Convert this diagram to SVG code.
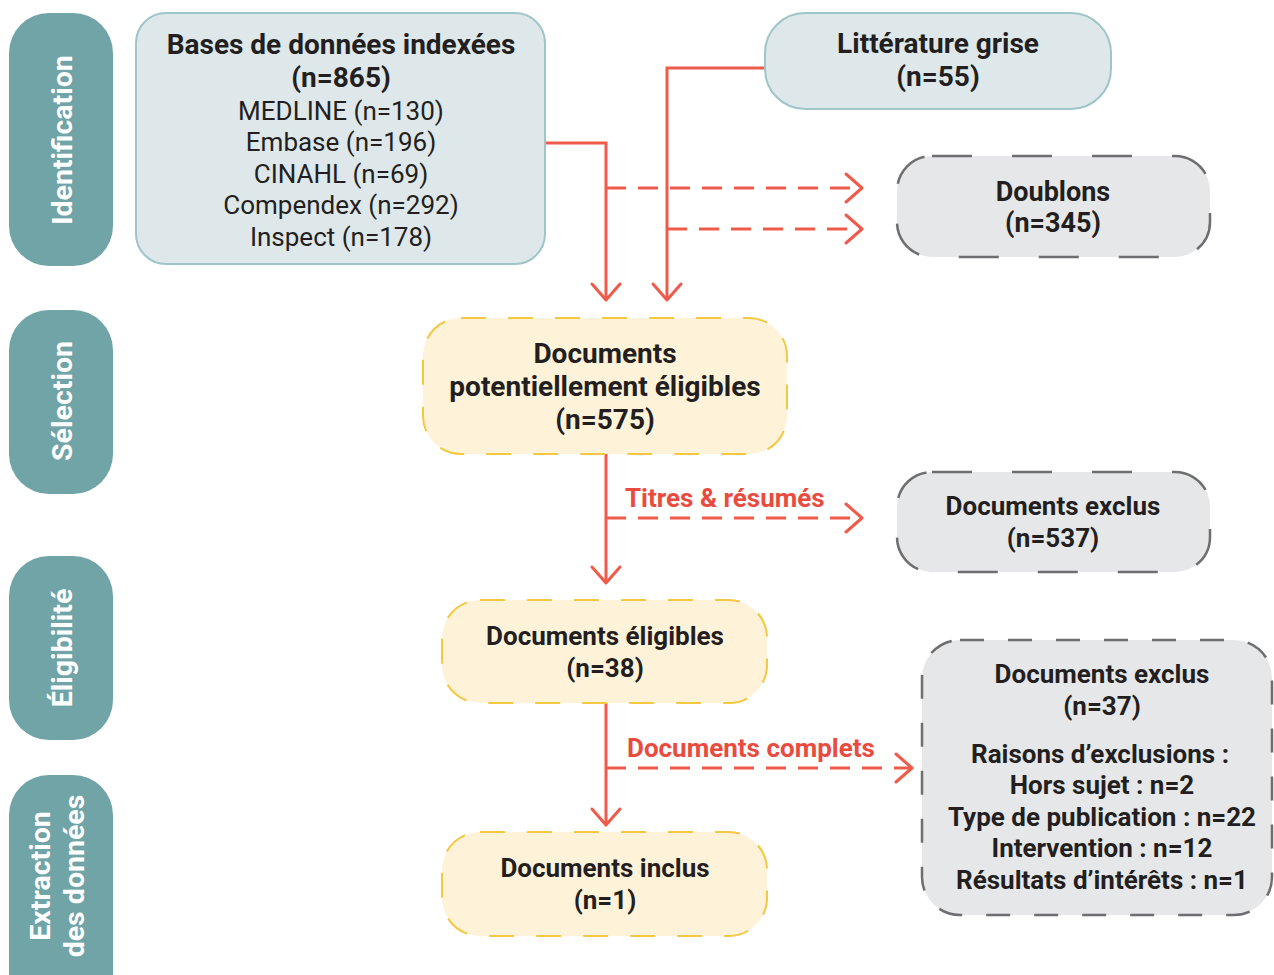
<svg xmlns="http://www.w3.org/2000/svg" width="1274" height="975" viewBox="0 0 1274 975">
<style>
.tab{fill:#70a4a7}
.tabt{font-family:Roboto,"Liberation Sans",sans-serif;font-weight:bold;font-size:28.5px;fill:#ffffff;text-anchor:middle}
.blue{fill:#dee7ea;stroke:#9fc5c8;stroke-width:2}
.yel{fill:#fef2d9;stroke:#f5c842;stroke-width:2;stroke-dasharray:25 22}
.gray{fill:#e6e7e9;stroke:#6d6e70;stroke-width:2.5;stroke-dasharray:40 40}
.b{font-family:Roboto,"Liberation Sans",sans-serif;font-weight:bold;font-size:26px;fill:#231f20;text-anchor:middle}
.b28{font-size:28px}
.b27{font-size:27px}
.r{font-family:Roboto,"Liberation Sans",sans-serif;font-size:26px;fill:#231f20;text-anchor:middle}
.lbl{font-family:Roboto,"Liberation Sans",sans-serif;font-weight:bold;font-size:26px;fill:#ea4b3f}
.ln{fill:none;stroke:#ef5b4b;stroke-width:3}
.dash{stroke-dasharray:20 12}
</style>
<defs>
<marker id="arr" markerUnits="userSpaceOnUse" markerWidth="40" markerHeight="40" viewBox="-20 -20 40 40" refX="0" refY="0" orient="auto">
<path d="M-16,-14 L0,0 L-16,14" fill="none" stroke="#ef5b4b" stroke-width="3" stroke-linecap="round" stroke-linejoin="round"/>
</marker>
</defs>

<g id="tab-identification"><rect class="tab" x="9" y="13" width="104" height="253" rx="40"/><text class="tabt" transform="translate(62,140) rotate(-90)" y="10">Identification</text></g>
<g id="tab-selection"><rect class="tab" x="9" y="310" width="104" height="184" rx="40"/><text class="tabt" transform="translate(62,401) rotate(-90)" y="10">Sélection</text></g>
<g id="tab-eligibilite"><rect class="tab" x="9" y="556" width="104" height="184" rx="40"/><text class="tabt" transform="translate(62,648) rotate(-90)" y="10">Éligibilité</text></g>
<g id="tab-extraction"><rect class="tab" x="9" y="775" width="104" height="240" rx="40"/><text class="tabt" transform="translate(40,876) rotate(-90)" y="10">Extraction</text><text class="tabt" transform="translate(74,876) rotate(-90)" y="10">des données</text></g>

<g id="connectors">
<polyline class="ln" points="545,143 606,143 606,300" marker-end="url(#arr)"/>
<polyline class="ln" points="765,68 667,68 667,300" marker-end="url(#arr)"/>
<line class="ln dash" x1="606" y1="188" x2="862" y2="188" marker-end="url(#arr)"/>
<line class="ln dash" x1="667" y1="229" x2="862" y2="229" marker-end="url(#arr)"/>
<line class="ln" x1="606" y1="454" x2="606" y2="583" marker-end="url(#arr)"/>
<line class="ln dash" x1="606" y1="518" x2="862" y2="518" marker-end="url(#arr)"/>
<line class="ln" x1="606" y1="703" x2="606" y2="825" marker-end="url(#arr)"/>
<line class="ln dash" x1="606" y1="768" x2="912" y2="768" marker-end="url(#arr)"/>
<text class="lbl" x="625" y="507">Titres &amp; résumés</text>
<text class="lbl" x="627" y="757">Documents complets</text>
</g>

<g id="bases">
<rect class="blue" x="136" y="13" width="409" height="251" rx="30"/>
<text class="b b28" x="341" y="54">Bases de données indexées</text>
<text class="b b28" x="341" y="87">(n=865)</text>
<text class="r" x="341" y="120">MEDLINE (n=130)</text>
<text class="r" x="341" y="151">Embase (n=196)</text>
<text class="r" x="341" y="183">CINAHL (n=69)</text>
<text class="r" x="341" y="214">Compendex (n=292)</text>
<text class="r" x="341" y="246">Inspect (n=178)</text>
</g>
<g id="litterature">
<rect class="blue" x="765" y="13" width="346" height="96" rx="40"/>
<text class="b b28" x="938" y="53">Littérature grise</text>
<text class="b b28" x="938" y="86">(n=55)</text>
</g>
<g id="doublons">
<rect class="gray" x="897" y="156" width="313" height="101" rx="35"/>
<text class="b b27" x="1053" y="201">Doublons</text>
<text class="b b27" x="1053" y="232">(n=345)</text>
</g>
<g id="potentiels">
<rect class="yel" x="423" y="318" width="364" height="136" rx="38"/>
<text class="b b28" x="605" y="363">Documents</text>
<text class="b b28" x="605" y="396">potentiellement éligibles</text>
<text class="b b28" x="605" y="429">(n=575)</text>
</g>
<g id="exclus537">
<rect class="gray" x="897" y="472" width="313" height="100" rx="35"/>
<text class="b" x="1053" y="515">Documents exclus</text>
<text class="b" x="1053" y="547">(n=537)</text>
</g>
<g id="eligibles">
<rect class="yel" x="442" y="600" width="325" height="103" rx="38"/>
<text class="b" x="605" y="645">Documents éligibles</text>
<text class="b" x="605" y="677">(n=38)</text>
</g>
<g id="exclus37">
<rect class="gray" x="922" y="640" width="350" height="275" rx="38" style="stroke-dasharray:24 24"/>
<text class="b" x="1102" y="683">Documents exclus</text>
<text class="b" x="1102" y="715">(n=37)</text>
<text class="b" x="1100" y="763">Raisons d’exclusions :</text>
<text class="b" x="1102" y="794">Hors sujet : n=2</text>
<text class="b" x="1102" y="826">Type de publication : n=22</text>
<text class="b" x="1102" y="857">Intervention : n=12</text>
<text class="b" x="1102" y="889">Résultats d’intérêts : n=1</text>
</g>
<g id="inclus">
<rect class="yel" x="442" y="832" width="325" height="104" rx="38"/>
<text class="b" x="605" y="877">Documents inclus</text>
<text class="b" x="605" y="909">(n=1)</text>
</g>
</svg>
